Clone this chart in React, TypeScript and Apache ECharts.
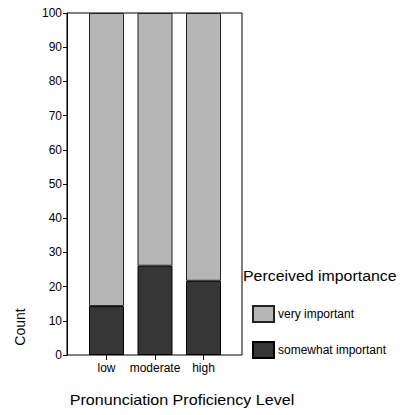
import React, { useEffect, useRef } from "react";
import * as echarts from "echarts";

const categories = ["low", "moderate", "high"];
const somewhatImportant = [14.3, 26.1, 21.7];
const veryImportant = [85.7, 73.9, 78.3];
const yTicks = { min: 0, max: 100, interval: 10 };

export default function App() {
  const ref = useRef<HTMLDivElement>(null);
  useEffect(() => {
    const chart = echarts.init(ref.current!, null, { renderer: "svg" });
    const font = "Liberation Sans, Arial, Helvetica, sans-serif";
    chart.setOption({
      animation: false,
      textStyle: { fontFamily: font },
      grid: [
        { left: 67, top: 13, width: 175, height: 342, show: true, borderColor: "#000", borderWidth: 1, backgroundColor: "transparent" },
        { left: 82.25, top: 13, width: 145.5, height: 342 },
      ],
      xAxis: [
        { type: "value", gridIndex: 0, show: false, min: 0, max: 1 },
        {
          type: "category",
          gridIndex: 1,
          data: categories,
          axisLine: { show: false },
          axisTick: { show: true, alignWithLabel: true, length: 5, lineStyle: { color: "#000" } },
          axisLabel: { fontSize: 12, color: "#000", margin: 7, interval: 0, fontFamily: font },
        },
      ],
      yAxis: [
        {
          type: "value",
          gridIndex: 0,
          min: yTicks.min,
          max: yTicks.max,
          interval: yTicks.interval,
          axisLine: { show: true, lineStyle: { color: "#000" } },
          axisTick: { show: true, length: 4, lineStyle: { color: "#000" } },
          axisLabel: { fontSize: 12, color: "#000", margin: 5, fontFamily: font },
          splitLine: { show: false },
        },
        { type: "value", gridIndex: 1, min: yTicks.min, max: yTicks.max, show: false, splitLine: { show: false } },
      ],
      legend: {
        orient: "vertical",
        left: 252,
        top: 305,
        padding: 0,
        icon: "rect",
        itemWidth: 21,
        itemHeight: 16,
        itemGap: 18,
        data: ["very important", "somewhat important"],
        textStyle: { fontSize: 12, color: "#000", fontFamily: font, padding: [0, 0, 0, -1] },
      },
      graphic: [
        { type: "text", x: 243, y: 268, scaleX: 1.06, style: { text: "Perceived importance", fontSize: 15, fill: "#000", fontFamily: font } },
        { type: "text", x: 13, y: 327, rotation: Math.PI / 2, style: { text: "Count", fontSize: 14, fill: "#000", fontFamily: font, align: "center", verticalAlign: "top" } },
        { type: "text", x: 182, y: 393, scaleX: 1.15, style: { text: "Pronunciation Proficiency Level", fontSize: 14, fill: "#000", fontFamily: font, align: "center" } },
      ],
      series: [
        {
          name: "somewhat important",
          type: "bar",
          stack: "total",
          xAxisIndex: 1,
          yAxisIndex: 1,
          barWidth: 35,
          data: somewhatImportant,
          itemStyle: { color: "#363636", borderColor: "#000", borderWidth: 1 },
        },
        {
          name: "very important",
          type: "bar",
          stack: "total",
          xAxisIndex: 1,
          yAxisIndex: 1,
          barWidth: 35,
          data: veryImportant,
          itemStyle: { color: "#b6b6b6", borderColor: "#222", borderWidth: 1 },
        },
      ],
    });
    return () => chart.dispose();
  }, []);
  return <div ref={ref} style={{ width: 402, height: 415, position: "absolute", left: 0, top: 0 }} />;
}
